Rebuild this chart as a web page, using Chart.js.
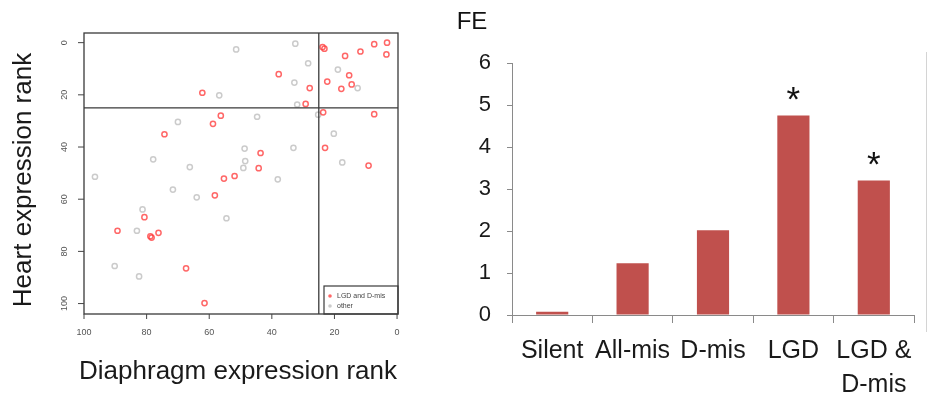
<!DOCTYPE html>
<html>
<head>
<meta charset="utf-8">
<script src="https://cdn.jsdelivr.net/npm/chart.js@4.4.0/dist/chart.umd.min.js"></script>
<style>
  html, body { margin: 0; padding: 0; background: #fff; }
  #wrap  { position: relative; width: 928px; height: 399px; overflow: hidden; }
  #left  { position: absolute; left: 0; top: 0; width: 440px; height: 399px; }
  #right { position: absolute; left: 440px; top: 0; width: 488px; height: 399px; }
  #edge  { position: absolute; left: 926px; top: 52px; width: 1px; height: 280px; background: #d4d4d4; }
</style>
</head>
<body>
<div id="wrap">
  <div id="left"><canvas id="rankChart"></canvas></div>
  <div id="right"><canvas id="feChart"></canvas></div>
  <div id="edge"></div>
</div>
<script>
/* ─── Scatter data: diaphragm rank (x) vs heart rank (y) ─── */
const lgdX = [23.8, 23.2, 16.6, 11.7, 7.3, 3.2, 3.4, 37.8, 15.3, 22.3, 14.5, 17.8, 27.9, 62.2, 29.2, 23.6, 7.3,
              56.3, 58.8, 74.3, 23.0, 43.6, 44.2, 9.1, 51.9, 55.3, 58.2, 80.7, 89.3, 78.8, 78.4, 76.2, 67.4, 61.5];
const lgdY = [1.7, 2.3, 5.1, 3.4, 0.6, 0.0, 4.5, 12.1, 12.5, 14.9, 16.0, 17.7, 17.4, 19.2, 23.5, 26.7, 27.4,
              28.0, 31.1, 35.1, 40.3, 42.3, 48.1, 47.1, 51.1, 52.1, 58.5, 66.9, 72.1, 74.2, 74.7, 72.9, 86.5, 99.8];
const otherX = [51.4, 32.5, 28.4, 18.9, 32.8, 12.6, 56.8, 31.9, 25.2, 44.7, 70.0, 20.2, 48.7, 33.1,
                77.9, 48.5, 17.5, 66.2, 49.1, 96.5, 38.1, 71.6, 64.0, 81.3, 83.1, 54.5, 90.2, 82.4];
const otherY = [2.6, 0.4, 7.9, 10.3, 15.3, 17.4, 20.2, 23.7, 27.6, 28.4, 30.4, 34.9, 40.6, 40.3,
                44.7, 45.4, 45.9, 47.7, 48.0, 51.4, 52.4, 56.3, 59.3, 63.9, 72.1, 67.3, 85.6, 89.6];
const rankTicks = [0, 20, 40, 60, 80, 100];
const rankCutoff = 25;
const seriesNames = ["LGD and D-mis", "other"];
const xTitle = "Diaphragm expression rank";
const yTitle = "Heart expression rank";

/* ─── Bar data: fold enrichment ─── */
const feCategories = ["Silent", "All-mis", "D-mis", "LGD", ["LGD &", "D-mis"]];
const feValues     = [0.08, 1.23, 2.02, 4.75, 3.2];
const feStars      = ["", "", "", "*", "*"];
const feTicks      = [0, 1, 2, 3, 4, 5, 6];

const FONT = '"Liberation Sans", Arial, sans-serif';
const RED = "rgba(255,60,60,0.78)";
const GREY = "rgba(200,200,200,0.95)";

function toPoints(xs, ys) { return xs.map((x, i) => ({ x: x, y: ys[i] })); }

/* R-style box, axes, cutoff lines and legend */
const rAxes = {
  id: "rAxes",
  afterDatasetsDraw(chart) {
    const { ctx, chartArea: a, scales: { x, y } } = chart;
    ctx.save();
    ctx.strokeStyle = "#3a3a3a";
    ctx.lineWidth = 1.3;
    ctx.strokeRect(a.left, a.top, a.right - a.left, a.bottom - a.top);

    const cx = x.getPixelForValue(rankCutoff), cy = y.getPixelForValue(rankCutoff);
    ctx.beginPath();
    ctx.moveTo(cx, a.top); ctx.lineTo(cx, a.bottom);
    ctx.moveTo(a.left, cy); ctx.lineTo(a.right, cy);
    ctx.stroke();

    ctx.lineWidth = 1;
    ctx.strokeStyle = "#444";
    ctx.fillStyle = "#555";
    ctx.font = "9px " + FONT;
    ctx.textAlign = "center";
    ctx.textBaseline = "middle";
    rankTicks.forEach(v => {
      const px = x.getPixelForValue(v);
      ctx.beginPath(); ctx.moveTo(px, a.bottom); ctx.lineTo(px, a.bottom + 5); ctx.stroke();
      ctx.fillText(String(v), px, a.bottom + 19);
      const py = y.getPixelForValue(v);
      ctx.beginPath(); ctx.moveTo(a.left, py); ctx.lineTo(a.left - 6, py); ctx.stroke();
      ctx.save();
      ctx.translate(a.left - 19, py);
      ctx.rotate(-Math.PI / 2);
      ctx.fillText(String(v), 0, 0);
      ctx.restore();
    });

    ctx.fillStyle = "#1a1a1a";
    ctx.font = "26px " + FONT;
    ctx.fillText(xTitle, (a.left + a.right) / 2 - 3, 372);
    ctx.save();
    ctx.translate(24, 180);
    ctx.rotate(-Math.PI / 2);
    ctx.fillText(yTitle, 0, 0);
    ctx.restore();

    /* legend box, bottom right */
    const lw = 74, lh = 28;
    ctx.strokeStyle = "#3a3a3a";
    ctx.lineWidth = 1.2;
    ctx.strokeRect(a.right - lw, a.bottom - lh, lw, lh);
    [RED, GREY].forEach((c, i) => {
      const ly = a.bottom - lh + 10 + i * 10;
      ctx.fillStyle = c;
      ctx.beginPath(); ctx.arc(a.right - lw + 6, ly, 1.8, 0, Math.PI * 2); ctx.fill();
      ctx.fillStyle = "#444";
      ctx.font = "7px " + FONT;
      ctx.textAlign = "left";
      ctx.fillText(seriesNames[i], a.right - lw + 13, ly);
    });
    ctx.restore();
  }
};

/* stars and FE label on the bar chart */
const feMarks = {
  id: "feMarks",
  afterDatasetsDraw(chart) {
    const { ctx, scales: { x, y } } = chart;
    ctx.save();
    ctx.fillStyle = "#111";
    ctx.font = "35px " + FONT;
    ctx.textAlign = "center";
    ctx.textBaseline = "alphabetic";
    feStars.forEach((s, i) => {
      if (!s) return;
      const m = ctx.measureText(s);
      const mid = (m.actualBoundingBoxAscent - m.actualBoundingBoxDescent) / 2;
      ctx.fillText(s, x.getPixelForValue(i), y.getPixelForValue(feValues[i]) - 22 + mid);
    });
    ctx.font = "24px " + FONT;
    ctx.textBaseline = "middle";
    ctx.fillText("FE", 32, 22);
    ctx.restore();
  }
};

new Chart(document.getElementById("rankChart"), {
  type: "scatter",
  data: {
    datasets: [
      { label: seriesNames[0], data: toPoints(lgdX, lgdY), pointRadius: 2.6, borderWidth: 1.5,
        borderColor: RED, backgroundColor: "rgba(255,255,255,0)" },
      { label: seriesNames[1], data: toPoints(otherX, otherY), pointRadius: 2.6, borderWidth: 1.5,
        borderColor: GREY, backgroundColor: "rgba(255,255,255,0)" },
    ],
  },
  options: {
    responsive: true, maintainAspectRatio: false, animation: false,
    layout: { padding: { top: 33, right: 42, left: 0, bottom: 0 } },
    plugins: { legend: { display: false }, tooltip: { enabled: false } },
    scales: {
      x: { type: "linear", reverse: true, min: -0.3, max: 100,
           grid: { display: false }, border: { display: false }, ticks: { display: false },
           afterFit: s => { s.height = 85; } },
      y: { type: "linear", reverse: true, min: -3.7, max: 104,
           grid: { display: false }, border: { display: false }, ticks: { display: false },
           afterFit: s => { s.width = 84; } },
    },
  },
  plugins: [rAxes],
});

new Chart(document.getElementById("feChart"), {
  type: "bar",
  data: {
    labels: feCategories,
    datasets: [{ data: feValues, backgroundColor: "#C0504D", borderWidth: 0,
                 categoryPercentage: 1, barPercentage: 0.4 }],
  },
  options: {
    responsive: true, maintainAspectRatio: false, animation: false,
    layout: { padding: { top: 63, right: 14, left: 0, bottom: 0 } },
    plugins: { legend: { display: false }, tooltip: { enabled: false } },
    scales: {
      x: {
        grid: { offset: true, drawOnChartArea: false, tickLength: 8, color: "#8a8a8a" },
        border: { color: "#8a8a8a" },
        ticks: { color: "#1a1a1a", font: { family: FONT, size: 25, lineHeight: 1.35 }, padding: 11,
                 maxRotation: 0, autoSkip: false },
        afterFit: s => { s.height = 84; },
      },
      y: {
        min: 0, max: 6,
        afterBuildTicks: s => { s.ticks = feTicks.map(v => ({ value: v })); },
        grid: { drawOnChartArea: false, tickLength: 5, color: "#8a8a8a" },
        border: { color: "#8a8a8a" },
        ticks: { color: "#1a1a1a", font: { family: FONT, size: 22 }, padding: 16 },
        afterFit: s => { s.width = 72; },
      },
    },
  },
  plugins: [feMarks],
});
</script>
</body>
</html>
